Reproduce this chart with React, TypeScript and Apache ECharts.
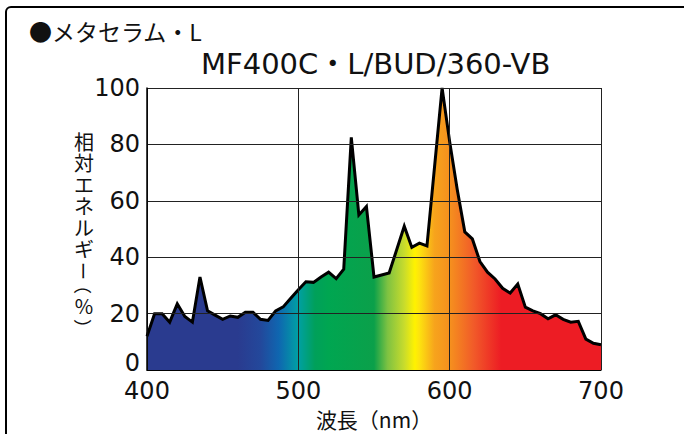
import React, { useEffect, useRef } from "react";
import * as echarts from "echarts";

const wavelengths = [
  400, 405, 410, 415, 420, 425, 430, 435, 440, 445, 450, 455, 460, 465, 470, 475,
  480, 485, 490, 495, 500, 505, 510, 515, 520, 525, 530, 535, 540, 545, 550, 555,
  560, 570, 575, 580, 585, 595, 600, 605, 610, 615, 620, 625, 630, 635, 640, 645,
  650, 655, 660, 665, 670, 675, 680, 685, 690, 695, 700,
];
const relEnergy = [
  12, 20, 20, 17, 23.5, 19, 17, 33, 21, 19.5, 18, 19.2, 18.7, 20.5, 20.5, 18,
  17.6, 21, 22.4, 25.5, 28.5, 31.3, 31.1, 33, 34.7, 32.4, 35.8, 82.5, 55, 58, 33, 33.7,
  34.4, 51, 43.5, 45, 44, 100, 81, 64, 49, 46.5, 38.5, 34.7, 32.3, 29, 27.3, 30.5,
  22.3, 21, 20, 18.2, 19.6, 18, 17, 17.3, 11, 9.5, 9,
];
const xTicks = [400, 500, 600, 700];
const yTicks = [0, 20, 40, 60, 80, 100];

const titleText = "●メタセラム・L";
const modelText = "MF400C・L/BUD/360-VB";
// vertical axis name, one character per line; rotated marks turn sideways
const yNameChars = ["相", "対", "エ", "ネ", "ル", "ギ", "ー", "（", "%", "）"];
const yNameRotated = [false, false, false, false, false, false, true, true, false, true];
const xName = "波長（nm）";

const spectrumStops = [
  { offset: 0, color: "#2a3b8f" },
  { offset: 0.2, color: "#2a3b8f" },
  { offset: 0.25, color: "#23489b" },
  { offset: 0.29, color: "#0f66b0" },
  { offset: 0.333, color: "#00a0a4" },
  { offset: 0.37, color: "#00a05a" },
  { offset: 0.4, color: "#00a651" },
  { offset: 0.5, color: "#0ba04a" },
  { offset: 0.53, color: "#7ec242" },
  { offset: 0.567, color: "#c9dc2c" },
  { offset: 0.59, color: "#fff200" },
  { offset: 0.6, color: "#fde30f" },
  { offset: 0.633, color: "#f7a41c" },
  { offset: 0.667, color: "#f5901e" },
  { offset: 0.72, color: "#f15a29" },
  { offset: 0.78, color: "#ed1c24" },
  { offset: 1, color: "#ed1c24" },
];

export default function App() {
  const ref = useRef<HTMLDivElement>(null);
  useEffect(() => {
    if (!ref.current) return;
    const chart = echarts.init(ref.current, undefined, { renderer: "svg" });
    const numFont = "'DejaVu Sans', 'Noto Sans CJK JP', sans-serif";
    const jpFont = "'Noto Sans CJK JP', sans-serif";
    const yCenters = [141, 162.5, 184, 205.5, 227, 248.5, 271, 285, 305, 328];
    const yNameGraphics = yNameChars.map((ch, i) => ({
      type: "text",
      x: 84,
      y: yCenters[i],
      rotation: yNameRotated[i] ? -Math.PI / 2 : 0,
      style: {
        text: ch,
        fontSize: yNameRotated[i] ? 18 : 20,
        lineHeight: yNameRotated[i] ? 16 : 20,
        fontFamily: jpFont,
        fill: "#111",
        align: "center",
        verticalAlign: "middle",
      },
    }));
    chart.setOption({
      animation: false,
      backgroundColor: "#ffffff",
      grid: { left: 147, right: 83, top: 88, bottom: 62 },
      xAxis: {
        type: "value",
        min: 400,
        max: 700,
        interval: 100,
        z: 5,
        axisLine: { show: true, lineStyle: { color: "#000", width: 1 } },
        axisTick: { show: false },
        splitLine: { show: true, lineStyle: { color: "#222", width: 1 } },
        axisLabel: {
          color: "#111",
          fontSize: 24,
          fontFamily: numFont,
          margin: 9,
          formatter: (v: number) => (xTicks.includes(v) ? String(v) : ""),
        },
        name: xName,
        nameLocation: "middle",
        nameGap: 36,
        nameTextStyle: { color: "#111", fontSize: 21, fontFamily: jpFont },
      },
      yAxis: {
        type: "value",
        min: 0,
        max: 100,
        interval: 20,
        z: 5,
        axisLine: { show: true, lineStyle: { color: "#000", width: 1.5 } },
        axisTick: { show: false },
        splitLine: { show: true, lineStyle: { color: "#222", width: 1 } },
        axisLabel: {
          color: "#111",
          fontSize: 24,
          fontFamily: numFont,
          margin: 7,
          formatter: (v: number) =>
            yTicks.includes(v) ? (v === 0 ? "{z|0}" : String(v)) : "",
          rich: {
            z: {
              fontSize: 24,
              fontFamily: numFont,
              color: "#111",
              padding: [0, 0, 14, 0],
            },
          },
        },
      },
      series: [
        {
          type: "line",
          data: wavelengths.map((w, i) => [w, relEnergy[i]]),
          symbol: "none",
          z: 2,
          lineStyle: { color: "#000", width: 3, join: "miter" },
          areaStyle: {
            opacity: 1,
            color: new echarts.graphic.LinearGradient(0, 0, 1, 0, spectrumStops),
          },
        },
      ],
      graphic: [
        {
          type: "rect",
          z: 100,
          shape: { x: 6, y: 7, width: 720, height: 480, r: [5, 0, 0, 0] },
          style: { fill: "none", stroke: "#000", lineWidth: 2 },
        },
        {
          type: "text",
          left: 29,
          top: 19,
          style: { text: titleText, fontSize: 23, fontFamily: jpFont, fill: "#111" },
        },
        {
          type: "text",
          x: 201,
          y: 64,
          style: {
            text: modelText,
            fontSize: 29,
            fontFamily: numFont,
            fill: "#111",
            verticalAlign: "middle",
          },
        },
        ...yNameGraphics,
      ],
    });
    return () => chart.dispose();
  }, []);
  return (
    <div
      ref={ref}
      style={{ position: "fixed", left: 0, top: 0, width: 684, height: 434 }}
    />
  );
}
